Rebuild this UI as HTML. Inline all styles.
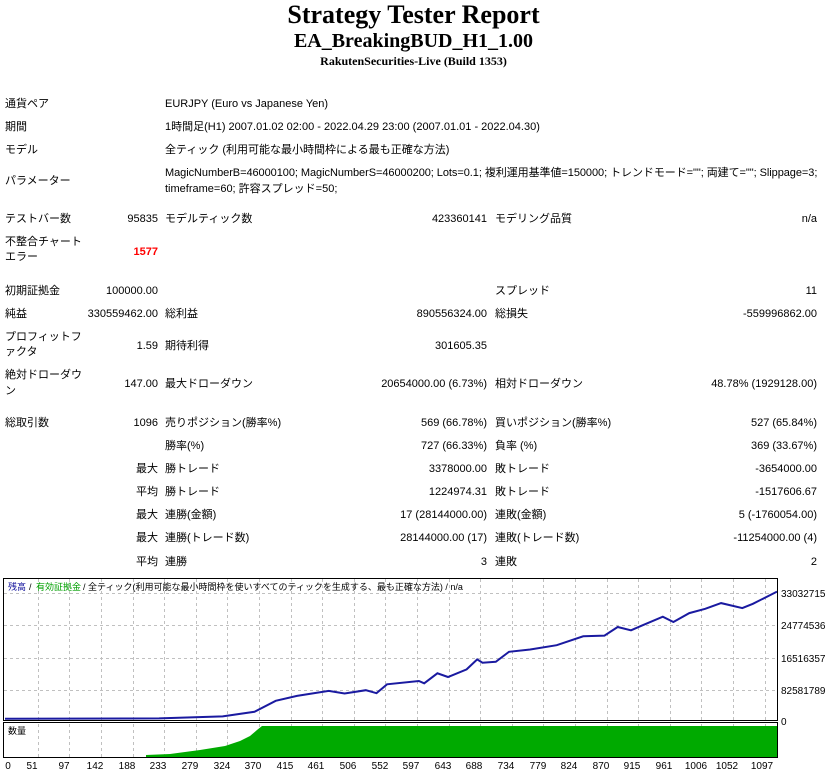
<!DOCTYPE html>
<html><head><meta charset="utf-8"><style>
body{margin:0;width:827px;height:773px;background:#fff;position:relative;overflow:hidden;font-family:"Liberation Sans","Noto Sans CJK JP",sans-serif;font-size:11px;color:#000}
.t{position:absolute;white-space:nowrap;line-height:14px}
.h{position:absolute;left:0;width:827px;text-align:center;font-family:"Liberation Serif","Noto Serif CJK SC",serif;font-weight:bold;white-space:nowrap}
</style></head><body>
<div class="h" style="top:0px;font-size:26px;line-height:30px">Strategy Tester Report</div>
<div class="h" style="top:29px;font-size:20px;line-height:24px">EA_BreakingBUD_H1_1.00</div>
<div class="h" style="top:54px;font-size:12px;line-height:14px">RakutenSecurities-Live (Build 1353)</div>

<div class="t" style="left:5px;top:97px">通貨ペア</div><div class="t" style="left:165px;top:97px">EURJPY (Euro vs Japanese Yen)</div>
<div class="t" style="left:5px;top:120px">期間</div><div class="t" style="left:165px;top:120px">1時間足(H1) 2007.01.02 02:00 - 2022.04.29 23:00 (2007.01.01 - 2022.04.30)</div>
<div class="t" style="left:5px;top:143px">モデル</div><div class="t" style="left:165px;top:143px">全ティック (利用可能な最小時間枠による最も正確な方法)</div>
<div class="t" style="left:5px;top:174px">パラメーター</div><div class="t" style="left:165px;top:166px;letter-spacing:-0.06px">MagicNumberB=46000100; MagicNumberS=46000200; Lots=0.1; 複利運用基準値=150000; トレンドモード=""; 両建て=""; Slippage=3;</div><div class="t" style="left:165px;top:182px">timeframe=60; 許容スプレッド=50;</div>

<div class="t" style="left:5px;top:212px">テストバー数</div><div class="t" style="right:669px;top:212px">95835</div><div class="t" style="left:165px;top:212px">モデルティック数</div><div class="t" style="right:340px;top:212px">423360141</div><div class="t" style="left:495px;top:212px">モデリング品質</div><div class="t" style="right:10px;top:212px">n/a</div>
<div class="t" style="left:5px;top:235px">不整合チャート</div><div class="t" style="left:5px;top:250px">エラー</div><div class="t" style="right:669px;top:245px;color:#f00;font-weight:bold">1577</div>

<div class="t" style="left:5px;top:284px">初期証拠金</div><div class="t" style="right:669px;top:284px">100000.00</div><div class="t" style="left:495px;top:284px">スプレッド</div><div class="t" style="right:10px;top:284px">11</div>
<div class="t" style="left:5px;top:307px">純益</div><div class="t" style="right:669px;top:307px">330559462.00</div><div class="t" style="left:165px;top:307px">総利益</div><div class="t" style="right:340px;top:307px">890556324.00</div><div class="t" style="left:495px;top:307px">総損失</div><div class="t" style="right:10px;top:307px">-559996862.00</div>
<div class="t" style="left:5px;top:330px">プロフィットフ</div><div class="t" style="left:5px;top:345px">ァクタ</div><div class="t" style="right:669px;top:339px">1.59</div><div class="t" style="left:165px;top:339px">期待利得</div><div class="t" style="right:340px;top:339px">301605.35</div>
<div class="t" style="left:5px;top:368px">絶対ドローダウ</div><div class="t" style="left:5px;top:384px">ン</div><div class="t" style="right:669px;top:377px">147.00</div><div class="t" style="left:165px;top:377px">最大ドローダウン</div><div class="t" style="right:340px;top:377px">20654000.00 (6.73%)</div><div class="t" style="left:495px;top:377px">相対ドローダウン</div><div class="t" style="right:10px;top:377px">48.78% (1929128.00)</div>

<div class="t" style="left:5px;top:416px">総取引数</div><div class="t" style="right:669px;top:416px">1096</div><div class="t" style="left:165px;top:416px">売りポジション(勝率%)</div><div class="t" style="right:340px;top:416px">569 (66.78%)</div><div class="t" style="left:495px;top:416px">買いポジション(勝率%)</div><div class="t" style="right:10px;top:416px">527 (65.84%)</div>
<div class="t" style="left:165px;top:439px">勝率(%)</div><div class="t" style="right:340px;top:439px">727 (66.33%)</div><div class="t" style="left:495px;top:439px">負率 (%)</div><div class="t" style="right:10px;top:439px">369 (33.67%)</div>
<div class="t" style="right:669px;top:462px">最大</div><div class="t" style="left:165px;top:462px">勝トレード</div><div class="t" style="right:340px;top:462px">3378000.00</div><div class="t" style="left:495px;top:462px">敗トレード</div><div class="t" style="right:10px;top:462px">-3654000.00</div>
<div class="t" style="right:669px;top:485px">平均</div><div class="t" style="left:165px;top:485px">勝トレード</div><div class="t" style="right:340px;top:485px">1224974.31</div><div class="t" style="left:495px;top:485px">敗トレード</div><div class="t" style="right:10px;top:485px">-1517606.67</div>
<div class="t" style="right:669px;top:508px">最大</div><div class="t" style="left:165px;top:508px">連勝(金額)</div><div class="t" style="right:340px;top:508px">17 (28144000.00)</div><div class="t" style="left:495px;top:508px">連敗(金額)</div><div class="t" style="right:10px;top:508px">5 (-1760054.00)</div>
<div class="t" style="right:669px;top:531px">最大</div><div class="t" style="left:165px;top:531px">連勝(トレード数)</div><div class="t" style="right:340px;top:531px">28144000.00 (17)</div><div class="t" style="left:495px;top:531px">連敗(トレード数)</div><div class="t" style="right:10px;top:531px">-11254000.00 (4)</div>
<div class="t" style="right:669px;top:555px">平均</div><div class="t" style="left:165px;top:555px">連勝</div><div class="t" style="right:340px;top:555px">3</div><div class="t" style="left:495px;top:555px">連敗</div><div class="t" style="right:10px;top:555px">2</div>

<svg style="position:absolute;left:0;top:0" width="827" height="773">
<g stroke="#c0c0c0" stroke-dasharray="3,3" stroke-width="1">
<line x1="4" y1="593.5" x2="777" y2="593.5"/><line x1="4" y1="625.5" x2="777" y2="625.5"/><line x1="4" y1="658.5" x2="777" y2="658.5"/><line x1="4" y1="690.5" x2="777" y2="690.5"/>
<path d="M38.5 579V720M69.5 579V720M101.5 579V720M133.5 579V720M164.5 579V720M196.5 579V720M227.5 579V720M259.5 579V720M291.5 579V720M322.5 579V720M354.5 579V720M385.5 579V720M417.5 579V720M449.5 579V720M480.5 579V720M512.5 579V720M543.5 579V720M575.5 579V720M607.5 579V720M638.5 579V720M670.5 579V720M701.5 579V720M733.5 579V720M765.5 579V720"/>
<path d="M38.5 724V757M69.5 724V757M101.5 724V757M133.5 724V757M164.5 724V757M196.5 724V757M227.5 724V757M259.5 724V757M291.5 724V757M322.5 724V757M354.5 724V757M385.5 724V757M417.5 724V757M449.5 724V757M480.5 724V757M512.5 724V757M543.5 724V757M575.5 724V757M607.5 724V757M638.5 724V757M670.5 724V757M701.5 724V757M733.5 724V757M765.5 724V757"/>
</g>
<polygon fill="#00aa00" points="146,757 146,755 170,754 200,750 225,746 240,741 250,736 257,730 262,726 265,726 777,726 777,757"/>
<polyline fill="none" stroke="#1a1aa0" stroke-width="2" points="5,718.7 159,718.4 222.7,716.4 254.5,711.8 275.7,700.8 297,695.9 328.7,690.9 344.6,693.5 365.8,690.2 376.5,693.2 387,684.3 418.9,681 424.2,683.3 437.4,673.3 448,677 466.6,669.4 477.2,659.4 482.5,662.7 495.8,661.8 509,651.8 530.2,649.5 556.7,645.2 583.2,636.3 604.5,635.6 617.7,627 631,630.3 641.6,625.7 662.8,616.7 673.4,622 689.3,613.1 705.2,608.8 721.1,603.1 742.3,608.1 752.9,603.8 777,591.6"/>
<rect x="3.5" y="578.5" width="774" height="142" fill="none" stroke="#000"/>
<rect x="3.5" y="722.5" width="774" height="35" fill="none" stroke="#000"/>
<g font-family="Liberation Sans, sans-serif" font-size="10" fill="#000">
<text x="781" y="597">33032715</text><text x="781" y="629">24774536</text><text x="781" y="662">16516357</text><text x="781" y="694">82581789</text><text x="781" y="725">0</text>
</g>
<g font-family="Liberation Sans, sans-serif" font-size="10" fill="#000" text-anchor="middle">
<text x="8" y="769">0</text><text x="32" y="769">51</text><text x="64" y="769">97</text><text x="95" y="769">142</text><text x="127" y="769">188</text><text x="158" y="769">233</text><text x="190" y="769">279</text><text x="222" y="769">324</text><text x="253" y="769">370</text><text x="285" y="769">415</text><text x="316" y="769">461</text><text x="348" y="769">506</text><text x="380" y="769">552</text><text x="411" y="769">597</text><text x="443" y="769">643</text><text x="474" y="769">688</text><text x="506" y="769">734</text><text x="538" y="769">779</text><text x="569" y="769">824</text><text x="601" y="769">870</text><text x="632" y="769">915</text><text x="664" y="769">961</text><text x="696" y="769">1006</text><text x="727" y="769">1052</text><text x="762" y="769">1097</text>
</g>
<g font-family="Liberation Sans, Noto Sans CJK JP, sans-serif" font-size="9">
<text x="8" y="590" fill="#1a1aa0">残高</text><text x="29" y="590">/</text><text x="36" y="590" fill="#00a000">有効証拠金</text><text x="83" y="590">/ 全ティック(利用可能な最小時間枠を使いすべてのティックを生成する、最も正確な方法) / n/a</text>
<text x="8" y="734">数量</text>
</g>
</svg>
</body></html>
